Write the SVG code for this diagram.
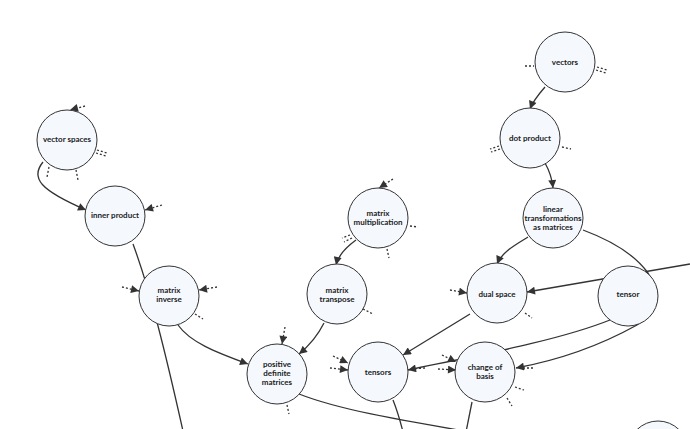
<svg xmlns="http://www.w3.org/2000/svg" width="690" height="429" viewBox="0 0 690 429">
<defs>
<marker id="ah" viewBox="0 0 10 10" refX="10" refY="5" markerWidth="9" markerHeight="8" markerUnits="userSpaceOnUse" orient="auto">
<path d="M0,0 L10,5 L0,10 z" fill="#333"/>
</marker>
</defs>
<style>
.bg{fill:#fff}
.e{fill:none;stroke:#333;stroke-width:1.3}
.a{marker-end:url(#ah)}
.d{fill:none;stroke:#333;stroke-width:1.3;stroke-dasharray:2,2}
.n circle{fill:#f5f9fe;stroke:#333;stroke-width:1}
.n text{font-family:Lato,"Liberation Sans",sans-serif;font-weight:bold;font-size:8px;fill:#222;text-anchor:middle;dominant-baseline:central}
</style>
<rect class="bg" width="690" height="429"/>
<g id="connectors">
<path class="e a" d="M43,162 C30,178 40,190 86,210"/>
<path class="e" d="M133,244 C150,290 165,350 185,440"/>
<path class="e a" d="M545,87 C538,95 533,101 530,109"/>
<path class="e a" d="M545,163 C549,170 552,178 553,188"/>
<path class="e a" d="M528,237 C515,245 502,252 497,264"/>
<path class="e a" d="M583,230 C610,240 635,255 648,273 C658,288 655,315 637,325 C610,340 570,358 516,368"/>
<path class="e a" d="M690,264 L527,292"/>
<path class="e a" d="M610,320 C560,340 480,355 408,370"/>
<path class="e a" d="M470,314 L403,355"/>
<path class="e a" d="M356,240 C345,248 338,256 336,265"/>
<path class="e a" d="M324,323 C318,335 310,345 299,354"/>
<path class="e a" d="M178,325 C190,342 215,352 248,364"/>
<path class="e" d="M299,394 C340,410 400,420 470,432"/>
<path class="e" d="M472,402 L466,432"/>
<path class="e" d="M393,400 C397,410 400,420 403,432"/>
<!-- dotted stubs -->
<path class="d a" d="M85,106 L70,110"/>
<path class="d" d="M97,150 L107,153 M96,153 L106,156"/>
<path class="d" d="M49,167 L47,177 M76,170 L78,180"/>
<path class="d a" d="M162,205 L145,210"/>
<path class="d" d="M525,66 L534,66"/>
<path class="d" d="M597,67 L607,70 M596,70 L606,73"/>
<path class="d" d="M499,146 L490,149 M500,149 L491,152"/>
<path class="d" d="M562,147 L571,149"/>
<path class="d a" d="M393,179 L379,188"/>
<path class="d" d="M410,226 L418,227"/>
<path class="d" d="M350,235 L342,238 M352,238 L344,242"/>
<path class="d" d="M387,249 L389,258"/>
<path class="d" d="M363,309 L373,314"/>
<path class="d a" d="M122,287 L139,291"/>
<path class="d a" d="M217,287 L199,290"/>
<path class="d" d="M195,314 L203,319"/>
<path class="d a" d="M285,327 L282,344"/>
<path class="d" d="M287,405 L289,414"/>
<path class="d a" d="M333,356 L348,363"/>
<path class="d a" d="M330,368 L348,370"/>
<path class="d" d="M425,368 L411,369"/>
<path class="d a" d="M442,355 L456,362"/>
<path class="d a" d="M438,369 L456,370"/>
<path class="d" d="M533,368 L518,368"/>
<path class="d" d="M515,387 L524,390 M507,398 L512,406"/>
<path class="d a" d="M450,290 L467,293"/>
<path class="d" d="M525,313 L532,318"/>
</g>
<g id="vector-spaces" class="n"><circle cx="67" cy="140" r="30"/><text x="67" y="138.5">vector spaces</text></g>
<g id="inner-product" class="n"><circle cx="115" cy="216" r="30"/><text x="115" y="215">inner product</text></g>
<g id="vectors" class="n"><circle cx="565" cy="62" r="30"/><text x="565" y="61.5">vectors</text></g>
<g id="dot-product" class="n"><circle cx="530" cy="138" r="30"/><text x="530" y="137.5">dot product</text></g>
<g id="linear-transformations" class="n"><circle cx="553" cy="218" r="30"/><text x="553" y="208.5">linear</text><text x="553" y="217.5">transformations</text><text x="553" y="226.5">as matrices</text></g>
<g id="matrix-multiplication" class="n"><circle cx="378" cy="218" r="30"/><text x="378" y="212.5">matrix</text><text x="378" y="221.5">multiplication</text></g>
<g id="matrix-transpose" class="n"><circle cx="337" cy="294" r="30"/><text x="337" y="289.5">matrix</text><text x="337" y="298.5">transpose</text></g>
<g id="matrix-inverse" class="n"><circle cx="169" cy="296" r="30"/><text x="169" y="290">matrix</text><text x="169" y="299">inverse</text></g>
<g id="dual-space" class="n"><circle cx="497" cy="293" r="30"/><text x="497" y="294">dual space</text></g>
<g id="tensor" class="n"><circle cx="628" cy="296" r="30"/><text x="628" y="294">tensor</text></g>
<g id="positive-definite-matrices" class="n"><circle cx="277" cy="374" r="30"/><text x="277" y="364">positive</text><text x="277" y="373">definite</text><text x="277" y="382">matrices</text></g>
<g id="tensors" class="n"><circle cx="378" cy="372" r="30"/><text x="378" y="372">tensors</text></g>
<g id="change-of-basis" class="n"><circle cx="485" cy="372" r="30"/><text x="485" y="367">change of</text><text x="485" y="376">basis</text></g>
<g id="offscreen-node" class="n"><circle cx="658" cy="451" r="30"/></g>
</svg>
